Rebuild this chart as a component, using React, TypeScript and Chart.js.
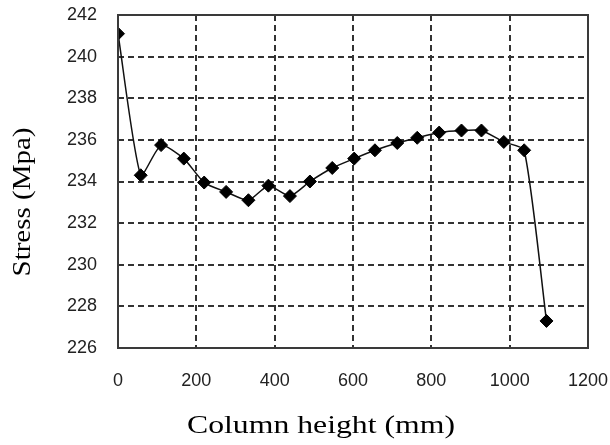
import React, { useEffect, useRef } from "react";
import { Chart, registerables } from "chart.js";

Chart.register(...registerables);

const heights = [0, 58, 110, 168, 220, 276, 333, 384, 439, 490, 547, 603, 656, 713, 764, 820, 877, 928, 985, 1037, 1094];
const stress = [241.1, 234.3, 235.75, 235.1, 233.95, 233.5, 233.1, 233.8, 233.3, 234.0, 234.65, 235.1, 235.5, 235.85, 236.1, 236.35, 236.45, 236.45, 235.9, 235.5, 227.3];
const xTitle = "Column height (mm)";
const yTitle = "Stress (Mpa)";

const framePlugin = {
  id: "frameAndTitles",
  afterDatasetsDraw(chart: any) {
    const { ctx, chartArea } = chart;
    ctx.save();
    ctx.strokeStyle = "#3a3a3a";
    ctx.lineWidth = 2;
    ctx.setLineDash([]);
    ctx.strokeRect(chartArea.left, chartArea.top, chartArea.right - chartArea.left, chartArea.bottom - chartArea.top);
    ctx.restore();
  },
  afterDraw(chart: any) {
    const { ctx } = chart;
    ctx.save();
    ctx.fillStyle = "#000";
    ctx.font = '26px "Liberation Serif", "Times New Roman", serif';
    ctx.textAlign = "center";
    ctx.textBaseline = "alphabetic";
    const wx = ctx.measureText(xTitle).width;
    ctx.save();
    ctx.translate(321, 433);
    ctx.scale(268 / wx, 1);
    ctx.fillText(xTitle, 0, 0);
    ctx.restore();
    const wy = ctx.measureText(yTitle).width;
    ctx.save();
    ctx.translate(30, 202);
    ctx.rotate(-Math.PI / 2);
    ctx.scale(149 / wy, 1);
    ctx.fillText(yTitle, 0, 0);
    ctx.restore();
    ctx.restore();
  },
};

export default function App() {
  const ref = useRef<HTMLCanvasElement>(null);
  useEffect(() => {
    if (!ref.current) return;
    const tickFont = { family: '"Liberation Sans", Arial, sans-serif', size: 18 };
    const chart = new Chart(ref.current, {
      type: "line",
      data: {
        datasets: [
          {
            data: heights.map((h, i) => ({ x: h, y: stress[i] })),
            borderColor: "#111",
            backgroundColor: "#000",
            borderWidth: 1.5,
            pointStyle: "rectRot",
            pointRadius: 6.5,
            pointBorderWidth: 1,
            pointBackgroundColor: "#000",
            pointBorderColor: "#000",
            tension: 0.2,
            fill: false,
          },
        ],
      },
      options: {
        responsive: false,
        animation: false,
        devicePixelRatio: 1,
        layout: { padding: { left: 0, right: 22, top: 15, bottom: 0 } },
        plugins: { legend: { display: false }, tooltip: { enabled: false }, title: { display: false } },
        scales: {
          x: {
            type: "linear",
            min: 0,
            max: 1200,
            ticks: {
              stepSize: 200,
              padding: 22,
              color: "#222",
              font: tickFont,
              maxRotation: 0,
              callback: (v: any) => String(v),
            },
            grid: { color: "#333", lineWidth: 2, drawTicks: false },
            border: { display: false, dash: [6, 4] },
            afterFit: (s: any) => {
              s.height = 97;
              s.paddingLeft = 0;
              s.paddingRight = 0;
              s.paddingTop = 0;
              s.paddingBottom = 0;
            },
          },
          y: {
            min: 226,
            max: 242,
            ticks: {
              stepSize: 2,
              padding: 21,
              color: "#222",
              font: tickFont,
              callback: (v: any) => String(v),
            },
            grid: { color: "#333", lineWidth: 2, drawTicks: false },
            border: { display: false, dash: [6, 4] },
            afterFit: (s: any) => {
              s.width = 118;
              s.paddingLeft = 0;
              s.paddingRight = 0;
              s.paddingTop = 0;
              s.paddingBottom = 0;
            },
          },
        },
      },
      plugins: [framePlugin],
    });
    return () => chart.destroy();
  }, []);
  return (
    <div style={{ position: "fixed", left: 0, top: 0, width: 610, height: 445, background: "#fff" }}>
      <canvas ref={ref} width={610} height={445} />
    </div>
  );
}
